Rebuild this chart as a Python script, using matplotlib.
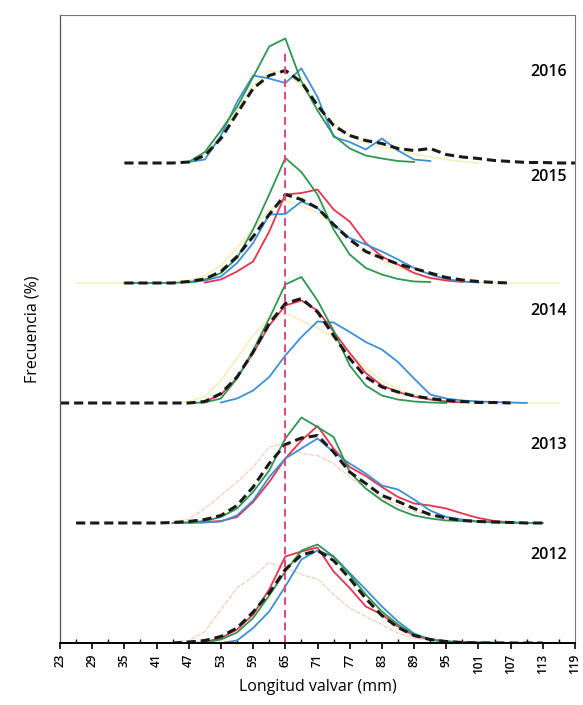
import numpy as np
import matplotlib
matplotlib.use('Agg')
import matplotlib.pyplot as plt

plt.rcParams['font.family'] = ['Open Sans', 'DejaVu Sans']

_ = np.nan

# length classes (mm), 3 mm steps
lengths = np.arange(23, 120, 3)
tick_values = np.arange(23, 120, 6)

years = ['2012', '2013', '2014', '2015', '2016']
offsets = [0, 24, 48, 72, 96]  # vertical shift of each year's curves

#            23 26 29 32 35 38 41 44  47   50   53   56   59   62   65   68   71   74   77   80   83   86   89   92   95   98  101  104  107  110  113  116  119
green_2016 = [_, _, _, _, _, _, _, _, 0.2, 2.2, 6.5, 11.2, 17.2, 23.3, 24.9, 16.3, 10.5, 5.5, 2.9, 1.5, 0.9, 0.4, 0.2, _, _, _, _, _, _, _, _, _, _]
blue_2016 = [_, _, _, _, _, _, _, _, 0.2, 0.7, 5.5, 12.2, 17.5, 16.9, 16.0, 18.9, 13.2, 5.2, 4.2, 2.7, 4.9, 2.5, 0.7, 0.4, _, _, _, _, _, _, _, _, _]
yellow_2016 = [_, _, _, _, _, _, _, _, 0.3, 1.8, 5.5, 10.5, 15.5, 18.5, 18.0, 15.5, 11.5, 8.0, 5.5, 4.0, 3.2, 2.5, 1.8, 1.2, 0.7, 0.3, 0.0, _, _, _, _, _, _]
black_2016 = [_, _, _, _, 0.0, 0.0, 0.0, 0.0, 0.2, 1.5, 4.9, 9.9, 14.9, 17.5, 18.5, 16.2, 11.5, 7.5, 5.5, 4.5, 3.9, 2.9, 2.5, 2.9, 1.7, 1.2, 0.9, 0.5, 0.3, 0.1, 0.1, 0.0, 0.0]

green_2015 = [_, _, _, _, 0.0, 0.0, 0.0, 0.0, 0.2, 0.7, 2.0, 5.0, 10.7, 17.7, 25.0, 22.2, 17.7, 10.7, 5.7, 3.0, 1.7, 0.8, 0.3, 0.2, _, _, _, _, _, _, _, _, _]
red_2015 = [_, _, _, _, _, _, _, _, _, 0.1, 0.7, 2.3, 4.3, 10.3, 17.7, 18.0, 18.7, 14.7, 12.3, 8.0, 5.3, 3.7, 2.0, 1.0, 0.5, 0.2, _, _, _, _, _, _, _]
blue_2015 = [_, _, _, _, _, _, _, _, 0.1, 0.5, 1.3, 4.0, 8.0, 13.7, 13.8, 16.3, 15.0, 11.7, 9.0, 7.7, 6.3, 4.7, 3.0, 1.7, 0.8, 0.3, 0.1, _, _, _, _, _, _]
yellow_2015 = [_, 0.0, 0.0, 0.0, 0.0, 0.0, 0.0, 0.2, 0.5, 1.5, 3.5, 7.0, 11.0, 14.5, 16.5, 15.5, 14.0, 11.5, 9.0, 6.5, 4.5, 3.0, 2.0, 1.2, 0.7, 0.3, 0.1, 0.0, 0.0, 0.0, 0.0, 0.0, _]
black_2015 = [_, _, _, _, 0.0, 0.0, 0.0, 0.0, 0.3, 0.8, 2.3, 5.3, 9.3, 13.7, 17.7, 16.7, 15.0, 11.7, 8.7, 6.3, 5.0, 3.8, 2.9, 2.0, 1.1, 0.6, 0.3, 0.1, 0.0, _, _, _, _]

green_2014 = [_, _, _, _, _, _, _, _, 0.0, 0.1, 0.9, 4.9, 10.5, 16.9, 23.7, 25.2, 20.5, 14.5, 7.5, 3.5, 1.5, 0.7, 0.3, 0.1, 0.0, _, _, _, _, _, _, _, _]
red_2014 = [_, _, _, _, _, _, _, _, _, 0.3, 1.7, 5.0, 10.0, 15.5, 19.5, 20.5, 18.5, 14.3, 10.0, 6.0, 3.5, 2.2, 1.3, 0.7, 0.3, 0.1, _, _, _, _, _, _, _]
blue_2014 = [_, _, _, _, _, _, _, _, _, _, 0.1, 0.9, 2.5, 5.2, 9.5, 13.2, 16.3, 16.1, 14.2, 12.2, 10.7, 8.2, 4.9, 1.7, 0.9, 0.5, 0.3, 0.2, 0.1, 0.0, _, _, _]
yellow_2014 = [_, _, _, _, _, _, _, 0.0, 0.3, 1.3, 4.5, 9.0, 13.5, 17.0, 18.0, 16.5, 15.0, 13.0, 10.0, 7.0, 4.5, 2.8, 1.6, 0.8, 0.4, 0.2, 0.0, 0.0, 0.0, 0.0, 0.0, 0.0, _]
black_2014 = [0.0, 0.0, 0.0, 0.0, 0.0, 0.0, 0.0, 0.0, 0.0, 0.3, 1.9, 5.2, 10.2, 15.9, 19.9, 20.9, 18.2, 13.5, 8.9, 5.2, 3.2, 2.2, 1.4, 0.9, 0.5, 0.3, 0.1, 0.1, 0.0, _, _, _, _]

green_2013 = [_, _, _, _, _, _, _, 0.0, 0.1, 0.4, 1.2, 2.9, 6.2, 10.5, 16.9, 21.1, 19.2, 17.2, 10.2, 6.9, 4.5, 2.7, 1.5, 0.9, 0.5, 0.4, 0.3, 0.2, 0.1, 0.0, 0.0, _, _]
red_2013 = [_, _, _, _, _, _, _, 0.0, 0.1, 0.2, 0.4, 1.2, 4.2, 8.2, 12.9, 16.5, 19.4, 14.9, 11.2, 9.4, 7.2, 5.2, 3.9, 3.5, 2.9, 1.9, 1.0, 0.4, 0.1, 0.0, _, _, _]
blue_2013 = [_, _, _, _, _, _, _, _, 0.0, 0.1, 0.3, 1.5, 4.5, 9.2, 12.9, 14.9, 16.9, 14.2, 11.9, 9.9, 7.5, 6.7, 4.7, 2.5, 1.2, 0.7, 0.3, 0.1, 0.0, _, _, _, _]
salmon_2013 = [_, _, _, _, _, _, _, 0.3, 0.7, 2.9, 5.5, 8.2, 11.2, 15.2, 15.9, 13.9, 13.5, 11.9, 9.2, 6.9, 4.9, 3.5, 2.3, 1.5, 0.9, 0.5, 0.2, 0.0, _, _, _, _, _]
black_2013 = [_, 0.0, 0.0, 0.0, 0.0, 0.0, 0.0, 0.1, 0.3, 0.7, 1.5, 3.5, 7.2, 11.9, 15.7, 17.0, 17.5, 14.2, 10.2, 7.9, 5.5, 4.3, 2.9, 1.7, 1.0, 0.5, 0.3, 0.2, 0.1, 0.0, 0.0, _, _]

green_2012 = [_, _, _, _, _, _, _, _, 0.0, 0.1, 0.7, 2.1, 5.0, 9.5, 14.3, 18.5, 19.7, 17.3, 13.7, 9.7, 6.3, 3.7, 1.7, 0.7, 0.3, 0.2, 0.1, 0.1, 0.0, 0.0, 0.0, _, _]
red_2012 = [_, _, _, _, _, _, _, _, _, 0.2, 1.0, 2.7, 5.7, 10.7, 17.3, 18.3, 19.1, 14.3, 11.0, 7.3, 5.7, 3.3, 1.5, 0.7, 0.3, 0.1, 0.0, _, _, _, _, _, _]
blue_2012 = [_, _, _, _, _, _, _, _, _, _, 0.0, 0.5, 3.0, 6.3, 11.3, 16.7, 18.5, 17.3, 14.0, 10.7, 7.3, 4.3, 1.9, 0.7, 0.3, 0.2, 0.1, 0.0, 0.0, _, _, _, _]
salmon_2012 = [_, _, _, _, _, _, _, 0.2, 0.5, 2.3, 6.7, 11.0, 13.3, 16.1, 15.0, 13.7, 12.8, 9.7, 7.0, 5.3, 3.7, 2.0, 1.0, 0.5, 0.2, 0.0, _, _, _, _, _, _, _]
black_2012 = [_, _, _, _, _, _, _, 0.0, 0.2, 0.5, 1.3, 3.0, 6.2, 10.0, 14.7, 17.6, 18.5, 16.5, 12.9, 8.9, 5.5, 3.1, 1.5, 0.7, 0.3, 0.1, 0.0, 0.0, 0.0, 0.0, 0.0, _, _]

# curves per year, drawn bottom layer first
curves = {
    '2016': [('yellow', yellow_2016), ('blue', blue_2016), ('green', green_2016), ('black', black_2016)],
    '2015': [('yellow', yellow_2015), ('red', red_2015), ('blue', blue_2015), ('green', green_2015), ('black', black_2015)],
    '2014': [('yellow', yellow_2014), ('red', red_2014), ('blue', blue_2014), ('green', green_2014), ('black', black_2014)],
    '2013': [('salmon', salmon_2013), ('red', red_2013), ('blue', blue_2013), ('green', green_2013), ('black', black_2013)],
    '2012': [('salmon', salmon_2012), ('red', red_2012), ('blue', blue_2012), ('green', green_2012), ('black', black_2012)],
}

styles = {
    'yellow': dict(color='#f4f0b4', lw=1.1),
    'salmon': dict(color='#f4cfc0', lw=0.9, ls=(0, (4, 1))),
    'red': dict(color='#e8334f', lw=1.3),
    'blue': dict(color='#3d8fd6', lw=1.3),
    'green': dict(color='#2e9750', lw=1.3),
    'black': dict(color='#1a1a1a', lw=2.2, ls=(0, (3, 1.6))),
}

label_y = [17.6, 39.6, 66.4, 93.2, 114.2]

fig = plt.figure(figsize=(5.83, 7.05), dpi=100)
ax = fig.add_axes([60 / 583, 62 / 705, 515 / 583, 628 / 705])

for year, off in zip(years, offsets):
    for name, vals in curves[year]:
        ax.plot(lengths, np.array(vals) + off, **styles[name])

for year, ly in zip(years, label_y):
    ax.text(117.5, ly, year, ha='right', va='center', fontsize=11.5, fontweight='semibold')

# reference length
ax.plot([65, 65], [0, 118], color='#e2457a', lw=1.4, ls=(0, (4, 2.5)))

ax.set_xlim(23, 119)
ax.set_ylim(0, 125.6)
ax.set_xticks(tick_values)
ax.set_xticks(tick_values[:-1] + 3, minor=True)
ax.tick_params(axis='x', which='major', direction='out', length=4, width=1.2, labelsize=8.5, labelrotation=90)
ax.tick_params(axis='x', which='minor', direction='in', length=3, width=1)
ax.set_yticks([])
for lbl in ax.get_xticklabels():
    lbl.set_fontweight('semibold')

ax.spines['bottom'].set_linewidth(1.4)
ax.spines['left'].set_linewidth(0.9)
ax.spines['left'].set_color('#555555')
for s in ['top', 'right']:
    ax.spines[s].set_linewidth(0.8)
    ax.spines[s].set_color('#777777')

ax.set_xlabel('Longitud valvar (mm)', fontsize=11.5, labelpad=4)
ax.set_ylabel('Frecuencia (%)', fontsize=11.5, labelpad=14)

fig.savefig('out.png', dpi=100)
